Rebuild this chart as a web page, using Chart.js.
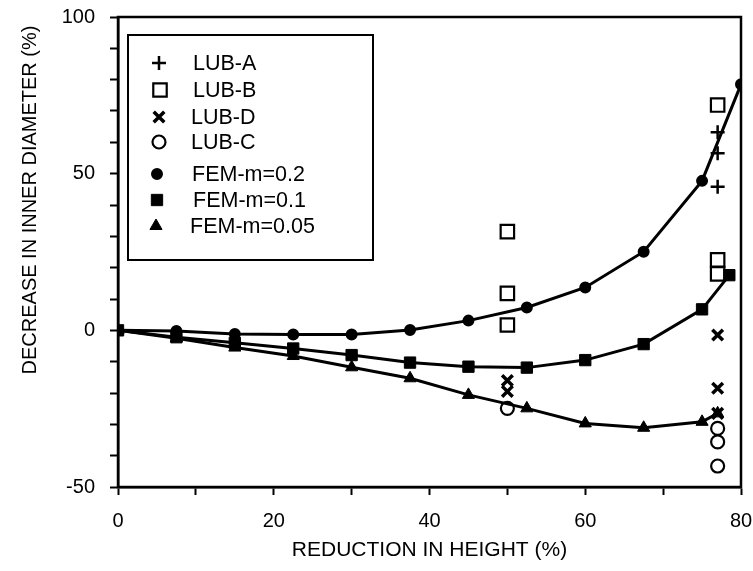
<!DOCTYPE html>
<html><head><meta charset="utf-8">
<script src="https://cdn.jsdelivr.net/npm/chart.js@4/dist/chart.umd.min.js"></script>
<style>html,body{margin:0;padding:0;background:#fff}#wrap{width:753px;height:571px;position:relative}</style>
</head><body><div id="wrap"><canvas id="c" width="753" height="571"></canvas></div>
<script>
// ---- data ----
const femX02 = [0, 7.5, 15, 22.5, 30, 37.5, 45, 52.5, 60, 67.5, 75, 80];
const fem02  = [0, -0.2, -1.2, -1.3, -1.3, 0.1, 3.1, 7.3, 13.7, 25.1, 47.7, 78.5];
const femX01 = [0, 7.5, 15, 22.5, 30, 37.5, 45, 52.5, 60, 67.5, 75, 78.5];
const fem01  = [0, -2.2, -4, -5.8, -7.9, -10.3, -11.6, -11.9, -9.5, -4.4, 6.7, 17.6];
const femX005 = [0, 7.5, 15, 22.5, 30, 37.5, 45, 52.5, 60, 67.5, 75, 77];
const fem005  = [0, -2.5, -5.5, -8.2, -11.8, -15.3, -20.6, -24.9, -29.7, -31.1, -29.2, -26.5];
const lubAX = [77, 77, 77];
const lubA  = [63.2, 56.5, 45.8];
const lubBX = [50, 50, 50, 77, 77, 77];
const lubB  = [31.5, 11.8, 1.7, 71.9, 22.5, 18];
const lubDX = [50, 50, 77, 77, 77];
const lubD  = [-16, -19.5, -1.5, -18.5, -26.5];
const lubCX = [50, 77, 77, 77];
const lubC  = [-24.9, -31.3, -35.6, -43.3];
const xTicks = [0, 20, 40, 60, 80];
const yTicks = [-50, 0, 50, 100];
const xTitle = 'REDUCTION IN HEIGHT (%)';
const yTitle = 'DECREASE IN INNER DIAMETER (%)';

const FONT = '"Liberation Sans", Arial, Helvetica, sans-serif';
const pts = (xs, ys) => xs.map((x, i) => ({x: x, y: ys[i]}));
const NONE = 'rgba(0,0,0,0)';

const styles = [
  {label: 'LUB-A', pointStyle: 'cross', pointRadius: 7, pointBorderWidth: 2.5, pointBackgroundColor: NONE, lx: 159, ly: 63, tx: 193},
  {label: 'LUB-B', pointStyle: 'rect', pointRadius: 9.5, pointBorderWidth: 2.2, pointBackgroundColor: NONE, lx: 160, ly: 90, tx: 193},
  {label: 'LUB-D', pointStyle: 'crossRot', pointRadius: 7.5, pointBorderWidth: 3.5, pointBackgroundColor: NONE, lx: 159, ly: 117, tx: 191},
  {label: 'LUB-C', pointStyle: 'circle', pointRadius: 6.5, pointBorderWidth: 2.2, pointBackgroundColor: NONE, lx: 159, ly: 142, tx: 191},
  {label: 'FEM-m=0.2', pointStyle: 'circle', pointRadius: 5, pointBorderWidth: 2, pointBackgroundColor: '#000', lx: 157, ly: 174, tx: 192},
  {label: 'FEM-m=0.1', pointStyle: 'rect', pointRadius: 8, pointBorderWidth: 1, pointBackgroundColor: '#000', lx: 157, ly: 200, tx: 193},
  {label: 'FEM-m=0.05', pointStyle: 'triangle', pointRadius: 7, pointBorderWidth: 1, pointBackgroundColor: '#000', lx: 156, ly: 226, tx: 190}
];
const dataSets = [pts(lubAX, lubA), pts(lubBX, lubB), pts(lubDX, lubD), pts(lubCX, lubC),
                  pts(femX02, fem02), pts(femX01, fem01), pts(femX005, fem005)];

const datasets = styles.map((s, i) => ({
  label: s.label,
  data: dataSets[i],
  showLine: i >= 4,
  borderColor: '#000',
  borderWidth: 3,
  tension: 0,
  pointStyle: s.pointStyle,
  pointRadius: s.pointRadius,
  pointBorderWidth: s.pointBorderWidth,
  pointBorderColor: '#000',
  pointBackgroundColor: s.pointBackgroundColor,
  order: i >= 4 ? 2 : 1
}));

const framePlugin = {
  id: 'frame',
  afterDraw(chart) {
    const {ctx, chartArea: a} = chart;
    ctx.save();
    ctx.strokeStyle = '#000';
    ctx.lineWidth = 2.5;
    ctx.strokeRect(a.left, a.top, a.right - a.left, a.bottom - a.top);
    // axis titles
    ctx.fillStyle = '#000';
    ctx.textAlign = 'center';
    ctx.textBaseline = 'middle';
    ctx.font = '21px ' + FONT;
    ctx.fillText(xTitle, (a.left + a.right) / 2, 550);
    ctx.save();
    ctx.translate(30, 200);
    ctx.rotate(-Math.PI / 2);
    ctx.font = '20px ' + FONT;
    ctx.fillText(yTitle, 0, 0);
    ctx.restore();
    // legend
    ctx.lineWidth = 2;
    ctx.fillStyle = '#fff';
    ctx.fillRect(128, 35, 245, 225);
    ctx.strokeRect(128, 35, 245, 225);
    ctx.font = '21.5px ' + FONT;
    ctx.textAlign = 'left';
    styles.forEach(s => {
      ctx.strokeStyle = '#000';
      ctx.fillStyle = s.pointBackgroundColor;
      ctx.lineWidth = s.pointBorderWidth;
      Chart.helpers.drawPoint(ctx, {pointStyle: s.pointStyle, radius: s.pointRadius, rotation: 0, borderWidth: s.pointBorderWidth}, s.lx, s.ly);
      ctx.fillStyle = '#000';
      ctx.fillText(s.label, s.tx, s.ly + 1);
    });
    ctx.restore();
  }
};

new Chart(document.getElementById('c'), {
  type: 'scatter',
  data: {datasets},
  options: {
    responsive: false,
    animation: false,
    layout: {padding: {top: 17, right: 12, left: 0, bottom: 0}},
    plugins: {legend: {display: false}, tooltip: {enabled: false}},
    scales: {
      x: {
        type: 'linear', min: 0, max: 80,
        afterFit: s => { s.height = 84; s.paddingRight = 0; s.paddingLeft = 0; },
        afterBuildTicks: s => { s.ticks = [0,10,20,30,40,50,60,70,80].map(v => ({value: v})); },
        ticks: {autoSkip: false, maxRotation: 0, padding: 14, color: '#000', font: {size: 20, family: FONT},
                callback: v => xTicks.includes(v) ? String(v) : ''},
        grid: {drawOnChartArea: false, drawTicks: true, tickLength: 8, tickColor: '#000', tickWidth: 2},
        border: {display: true, color: '#000', width: 2.5}
      },
      y: {
        type: 'linear', min: -50, max: 100,
        afterFit: s => { s.width = 118; s.paddingTop = 0; s.paddingBottom = 0; },
        afterBuildTicks: s => { const t = []; for (let v = -50; v <= 100; v += 10) t.push({value: v}); s.ticks = t; },
        ticks: {autoSkip: false, padding: 15, color: '#000', font: {size: 20, family: FONT},
                callback: v => yTicks.includes(v) ? String(v) : ''},
        grid: {drawOnChartArea: false, drawTicks: true, tickLength: 8, tickColor: '#000', tickWidth: 2},
        border: {display: true, color: '#000', width: 2.5}
      }
    }
  },
  plugins: [framePlugin]
});
</script></body></html>
